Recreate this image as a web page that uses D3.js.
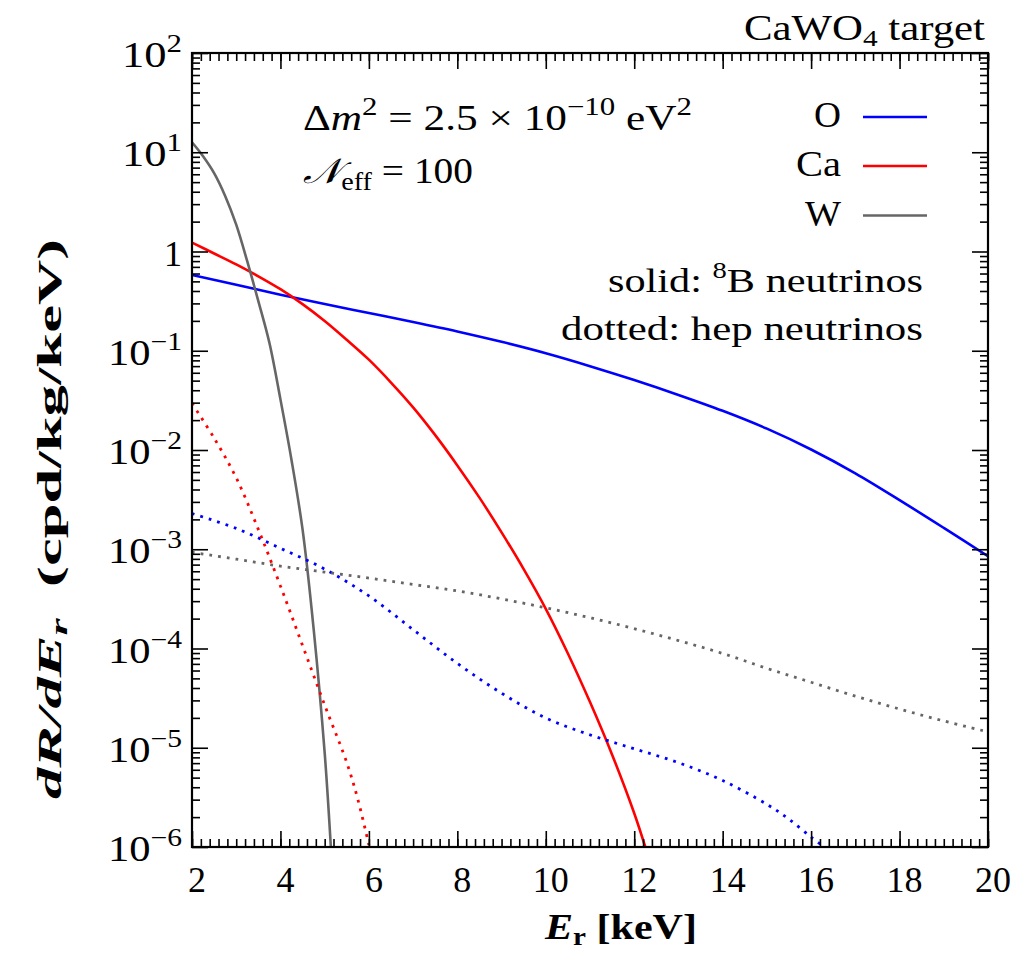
<!DOCTYPE html>
<html>
<head>
<meta charset="utf-8">
<script src="https://cdn.jsdelivr.net/npm/d3@7"></script>
<style>
  html, body { margin: 0; padding: 0; background: #fff; }
  svg { display: block; }
  text { font-family: "Liberation Serif", "DejaVu Serif", serif; fill: #000; }
</style>
</head>
<body>
<svg id="chart" width="1031" height="953" font-family="Liberation Serif, serif"></svg>
<script>
// Recoil spectra on CaWO4: dR/dE_r (cpd/kg/keV) vs E_r (keV), values as log10
const oB8E   = [2,3,4,5,6,7,8,9,10,11,12,13,14,15,16,17,18,19,20];
const oB8Log = [-0.237,-0.335,-0.435,-0.53,-0.62,-0.71,-0.805,-0.91,-1.025,-1.155,-1.295,-1.445,-1.605,-1.785,-1.995,-2.235,-2.505,-2.785,-3.07];

const caB8E   = [2,2.5,3,3.5,4,4.5,5,5.5,6,6.5,7,7.5,8,8.5,9,9.5,10,10.5,11,11.5,12,12.25];
const caB8Log = [0.09,-0.02,-0.13,-0.25,-0.38,-0.53,-0.70,-0.89,-1.09,-1.32,-1.57,-1.85,-2.155,-2.48,-2.83,-3.20,-3.60,-4.05,-4.54,-5.07,-5.66,-6.0];

const wB8E   = [2,2.25,2.5,2.75,3,3.25,3.5,3.75,4,4.25,4.5,4.75,5,5.14];
const wB8Log = [1.10,0.96,0.79,0.56,0.27,-0.10,-0.50,-0.92,-1.49,-2.10,-2.80,-3.80,-5.05,-6.0];

const oHepE   = [2,3,4,5,6,7,8,9,10,11,12,13,14,15,15.5,16,16.3];
const oHepLog = [-2.64,-2.79,-2.99,-3.20,-3.47,-3.81,-4.15,-4.45,-4.70,-4.87,-5.01,-5.15,-5.33,-5.57,-5.72,-5.90,-6.0];

const caHepE   = [2,2.5,3,3.5,4,4.5,5,5.5,5.75,6.0];
const caHepLog = [-1.53,-1.88,-2.28,-2.80,-3.37,-3.97,-4.57,-5.15,-5.52,-5.98];

const wHepE   = [2,3,4,5,6,7,8,9,10,11,12,13,14,15,16,17,18,19,20];
const wHepLog = [-3.03,-3.10,-3.17,-3.23,-3.29,-3.355,-3.42,-3.50,-3.59,-3.69,-3.80,-3.92,-4.05,-4.20,-4.34,-4.48,-4.61,-4.73,-4.84];

const elementNames  = ["O", "Ca", "W"];
const xTickLabels   = [2,4,6,8,10,12,14,16,18,20];
const yDecades      = [-6,-5,-4,-3,-2,-1,0,1,2];

const colors = { O: "#0000ff", Ca: "#ff0000", W: "#666666" };

const svg = d3.select("#chart");
const L = 192, R = 988, T = 53, B = 847;

const x = d3.scaleLinear().domain([2, 20]).range([L, R]);
const y = d3.scaleLog().domain([1e-6, 1e2]).range([B, T]);

// clip region for the curves
svg.append("defs").append("clipPath").attr("id", "plotClip")
  .append("rect").attr("x", L).attr("y", T).attr("width", R - L).attr("height", B - T);

const series = [
  { el: "O",  E: oB8E,   v: oB8Log,   dotted: false },
  { el: "Ca", E: caB8E,  v: caB8Log,  dotted: false },
  { el: "W",  E: wB8E,   v: wB8Log,   dotted: false },
  { el: "O",  E: oHepE,  v: oHepLog,  dotted: true },
  { el: "Ca", E: caHepE, v: caHepLog, dotted: true },
  { el: "W",  E: wHepE,  v: wHepLog,  dotted: true }
];

const line = d3.line()
  .x(d => x(d[0]))
  .y(d => y(d[1]))
  .curve(d3.curveCatmullRom.alpha(0.5));

const curves = svg.append("g").attr("clip-path", "url(#plotClip)");
series.forEach(s => {
  const pts = s.E.map((e, i) => [e, Math.pow(10, s.v[i])]);
  curves.append("path")
    .attr("d", line(pts))
    .attr("fill", "none")
    .attr("stroke", colors[s.el])
    .attr("stroke-width", s.dotted ? 2.8 : 2.6)
    .attr("stroke-dasharray", s.dotted ? "2.8 6" : null);
});

// ticks (inward on all four sides)
const xMinor = d3.range(2, 20.0001, 0.2).map(v => +v.toFixed(1));
const yMinor = [];
yDecades.slice(0, -1).forEach(k => { for (let m = 2; m <= 9; m++) yMinor.push(m * Math.pow(10, k)); });
const yMajor = yDecades.map(k => Math.pow(10, k));

function tickAxis(axisFn, scale, values, size, transform) {
  const g = svg.append("g").attr("transform", transform)
    .call(axisFn(scale).tickValues(values).tickSizeInner(-size).tickSizeOuter(0).tickFormat(() => ""));
  g.select(".domain").remove();
  g.selectAll("line").attr("stroke", "#000").attr("stroke-width", 1.6);
}
tickAxis(d3.axisBottom, x, xMinor, 8, `translate(0,${B})`);
tickAxis(d3.axisBottom, x, xTickLabels, 16, `translate(0,${B})`);
tickAxis(d3.axisTop, x, xMinor, 8, `translate(0,${T})`);
tickAxis(d3.axisTop, x, xTickLabels, 16, `translate(0,${T})`);
tickAxis(d3.axisLeft, y, yMinor, 8, `translate(${L},0)`);
tickAxis(d3.axisLeft, y, yMajor, 16, `translate(${L},0)`);
tickAxis(d3.axisRight, y, yMinor, 8, `translate(${R},0)`);
tickAxis(d3.axisRight, y, yMajor, 16, `translate(${R},0)`);

// frame
svg.append("rect").attr("x", L).attr("y", T).attr("width", R - L).attr("height", B - T)
  .attr("fill", "none").attr("stroke", "#000").attr("stroke-width", 2.2);

// x tick labels
svg.append("g").selectAll("text").data(xTickLabels).join("text")
  .attr("x", d => x(d) + 5).attr("y", B + 45)
  .attr("text-anchor", "middle").attr("font-size", 36)
  .text(d => d);

// y tick labels: 1 for 10^0, otherwise 10 with exponent
const yl = svg.append("g");
yDecades.forEach(k => {
  const t = yl.append("text").attr("x", L - 10).attr("y", y(Math.pow(10, k)) + 14)
    .attr("text-anchor", "end").attr("font-size", 36);
  if (k === 0) { t.text("1"); return; }
  t.attr("textLength", k < 0 ? 74 : 60).attr("lengthAdjust", "spacingAndGlyphs");
  t.append("tspan").text("10");
  t.append("tspan").attr("dy", -15).attr("font-size", 25).text(k < 0 ? "\u2212" + (-k) : String(k));
});

// axis titles
const xt = svg.append("text").attr("x", 621).attr("y", 939)
  .attr("text-anchor", "middle").attr("font-size", 36).attr("font-weight", "bold")
  .attr("textLength", 152).attr("lengthAdjust", "spacingAndGlyphs");
xt.append("tspan").attr("font-style", "italic").text("E");
xt.append("tspan").attr("dy", 6).attr("font-size", 25).text("r");
xt.append("tspan").attr("dy", -6).text(" [keV]");

const yt = svg.append("text").attr("transform", "translate(61,519) rotate(-90)")
  .attr("text-anchor", "middle").attr("font-size", 34).attr("font-weight", "bold")
  .attr("textLength", 560).attr("lengthAdjust", "spacingAndGlyphs");
yt.append("tspan").attr("font-style", "italic").text("dR/dE");
yt.append("tspan").attr("dy", 6).attr("font-style", "italic").attr("font-size", 24).text("r");
yt.append("tspan").attr("dy", -6).text("\u2002(cpd/kg/keV)");

// title at top right
const tt = svg.append("text").attr("x", 985).attr("y", 40).attr("text-anchor", "end").attr("font-size", 35)
  .attr("textLength", 241).attr("lengthAdjust", "spacingAndGlyphs");
tt.append("tspan").text("CaWO");
tt.append("tspan").attr("dy", 6).attr("font-size", 24).text("4");
tt.append("tspan").attr("dy", -6).text(" target");

// parameter annotation
const a1 = svg.append("text").attr("x", 303).attr("y", 130).attr("font-size", 35)
  .attr("textLength", 389).attr("lengthAdjust", "spacingAndGlyphs");
a1.append("tspan").text("\u0394");
a1.append("tspan").attr("font-style", "italic").text("m");
a1.append("tspan").attr("dy", -15).attr("font-size", 25).text("2");
a1.append("tspan").attr("dy", 15).text(" = 2.5 \u00d7 10");
a1.append("tspan").attr("dy", -15).attr("font-size", 25).text("\u221210");
a1.append("tspan").attr("dy", 15).text(" eV");
a1.append("tspan").attr("dy", -15).attr("font-size", 25).text("2");

const a2 = svg.append("text").attr("x", 303).attr("y", 183).attr("font-size", 35)
  .attr("textLength", 170).attr("lengthAdjust", "spacingAndGlyphs");
a2.append("tspan").attr("font-style", "italic").text("\ud835\udca9");
a2.append("tspan").attr("dy", 7).attr("font-size", 25).text("eff");
a2.append("tspan").attr("dy", -7).text(" = 100");

// legend
const legY = [117, 166, 215.5];
const legW = [27, 45, 36];
elementNames.forEach((n, i) => {
  svg.append("text").attr("x", 841).attr("y", legY[i] + 10).attr("text-anchor", "end")
    .attr("font-size", 36).attr("textLength", legW[i]).attr("lengthAdjust", "spacingAndGlyphs").text(n);
  svg.append("line").attr("x1", 863).attr("x2", 927).attr("y1", legY[i]).attr("y2", legY[i])
    .attr("stroke", colors[n]).attr("stroke-width", 2.6);
});

const s1 = svg.append("text").attr("x", 923).attr("y", 292).attr("text-anchor", "end").attr("font-size", 34)
  .attr("textLength", 315).attr("lengthAdjust", "spacingAndGlyphs");
s1.append("tspan").text("solid:  ");
s1.append("tspan").attr("dy", -14).attr("font-size", 23).text("8");
s1.append("tspan").attr("dy", 14).text("B neutrinos");
svg.append("text").attr("x", 923).attr("y", 340).attr("text-anchor", "end").attr("font-size", 34)
  .attr("textLength", 362).attr("lengthAdjust", "spacingAndGlyphs")
  .text("dotted:  hep neutrinos");
</script>
</body>
</html>
